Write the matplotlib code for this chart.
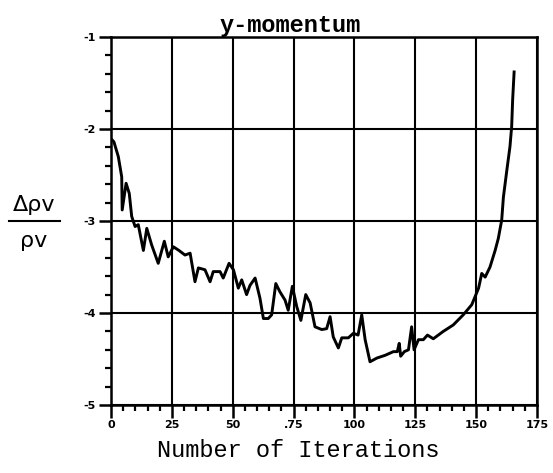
import numpy as np
import matplotlib
matplotlib.use('Agg')
import matplotlib.pyplot as plt
from matplotlib.lines import Line2D
from matplotlib.ticker import MultipleLocator

iterations = [0.5, 1.2, 3.0, 4.4, 4.6, 6.2, 7.5, 8.5, 9.9, 11.2, 13.3, 14.7, 16.7, 19.4, 21.9,
              23.5, 25.6, 27.9, 30.4, 32.5, 34.5, 35.9, 38.6, 40.7, 42.0, 44.8, 46.1, 48.5,
              50.3, 52.3, 53.7, 55.7, 57.1, 59.2, 61.2, 62.6, 64.6, 66.0, 67.7, 69.4, 71.5,
              72.8, 74.5, 76.3, 78.0, 80.0, 81.8, 83.8, 86.6, 88.6, 90.0, 91.3, 93.4, 94.8,
              97.5, 99.6, 101.5, 103.0, 104.4, 106.4, 109.2, 112.6, 116.0, 117.6, 118.4,
              119.0, 120.5, 122.2, 123.5, 124.5, 126.3, 128.3, 130.0, 132.4, 136.5, 140.6,
              144.7, 148.2, 151.0, 152.3, 153.7, 155.7, 157.8, 159.1, 160.5, 161.2, 162.6,
              163.9, 164.6, 165.0, 165.6]
residual = [-2.12, -2.14, -2.30, -2.52, -2.88, -2.59, -2.70, -2.95, -3.06, -3.04, -3.32, -3.08,
            -3.26, -3.46, -3.22, -3.39, -3.28, -3.32, -3.37, -3.35, -3.66, -3.51, -3.53, -3.66,
            -3.55, -3.55, -3.62, -3.46, -3.53, -3.73, -3.64, -3.80, -3.70, -3.62, -3.84, -4.06,
            -4.06, -4.02, -3.68, -3.77, -3.86, -3.97, -3.71, -3.93, -4.08, -3.80, -3.89, -4.15,
            -4.18, -4.17, -4.04, -4.26, -4.38, -4.27, -4.27, -4.22, -4.24, -4.02, -4.29, -4.53,
            -4.49, -4.46, -4.42, -4.42, -4.33, -4.47, -4.42, -4.40, -4.15, -4.40, -4.29, -4.29,
            -4.24, -4.28, -4.20, -4.13, -4.02, -3.91, -3.73, -3.57, -3.61, -3.50, -3.32, -3.19,
            -2.99, -2.74, -2.45, -2.19, -1.97, -1.68, -1.38]

xticks = [0, 25, 50, 75, 100, 125, 150, 175]
xticklabels = ['0', '25', '50', '.75', '100', '125', '150', '175']
yticks = [-1, -2, -3, -4, -5]
yticklabels = ['-1', '-2', '-3', '-4', '-5']

fig = plt.figure(figsize=(5.53, 4.73), dpi=100)
ax = fig.add_axes([111/553, 1 - 405/473, 426/553, 368/473])

ax.plot(iterations, residual, color='black', lw=2.1)

ax.set_xlim(0, 175)
ax.set_ylim(-5, -1)
ax.set_xticks(xticks)
ax.set_xticklabels(xticklabels, fontsize=8, fontweight='bold', family='DejaVu Sans')
ax.set_yticks(yticks)
ax.set_yticklabels(yticklabels, fontsize=8, fontweight='bold', family='DejaVu Sans')
ax.xaxis.set_minor_locator(MultipleLocator(5))
ax.yaxis.set_minor_locator(MultipleLocator(0.2))
ax.tick_params(which='major', direction='out', length=9, width=1.8, pad=2)
ax.tick_params(which='minor', direction='out', length=4.5, width=1.6)
ax.grid(True, which='major', color='black', lw=1.5)
for s in ax.spines.values():
    s.set_linewidth(1.8)

ax.set_title('y-momentum', family='Liberation Mono', fontsize=17, fontweight='bold',
             x=0.42, pad=3)
ax.set_xlabel('Number of Iterations', family='Liberation Mono', fontsize=17,
              x=0.44, labelpad=6)

# y label drawn as a stacked fraction
fig.text(34/553, 1 - 205/473, 'Δρv', ha='center', va='center', fontsize=16)
fig.text(34/553, 1 - 241/473, 'ρv', ha='center', va='center', fontsize=16)
fig.add_artist(Line2D([9/553, 60/553], [1 - 221/473, 1 - 221/473],
                      color='black', lw=1.5, transform=fig.transFigure))

fig.savefig('out.png', dpi=100)
